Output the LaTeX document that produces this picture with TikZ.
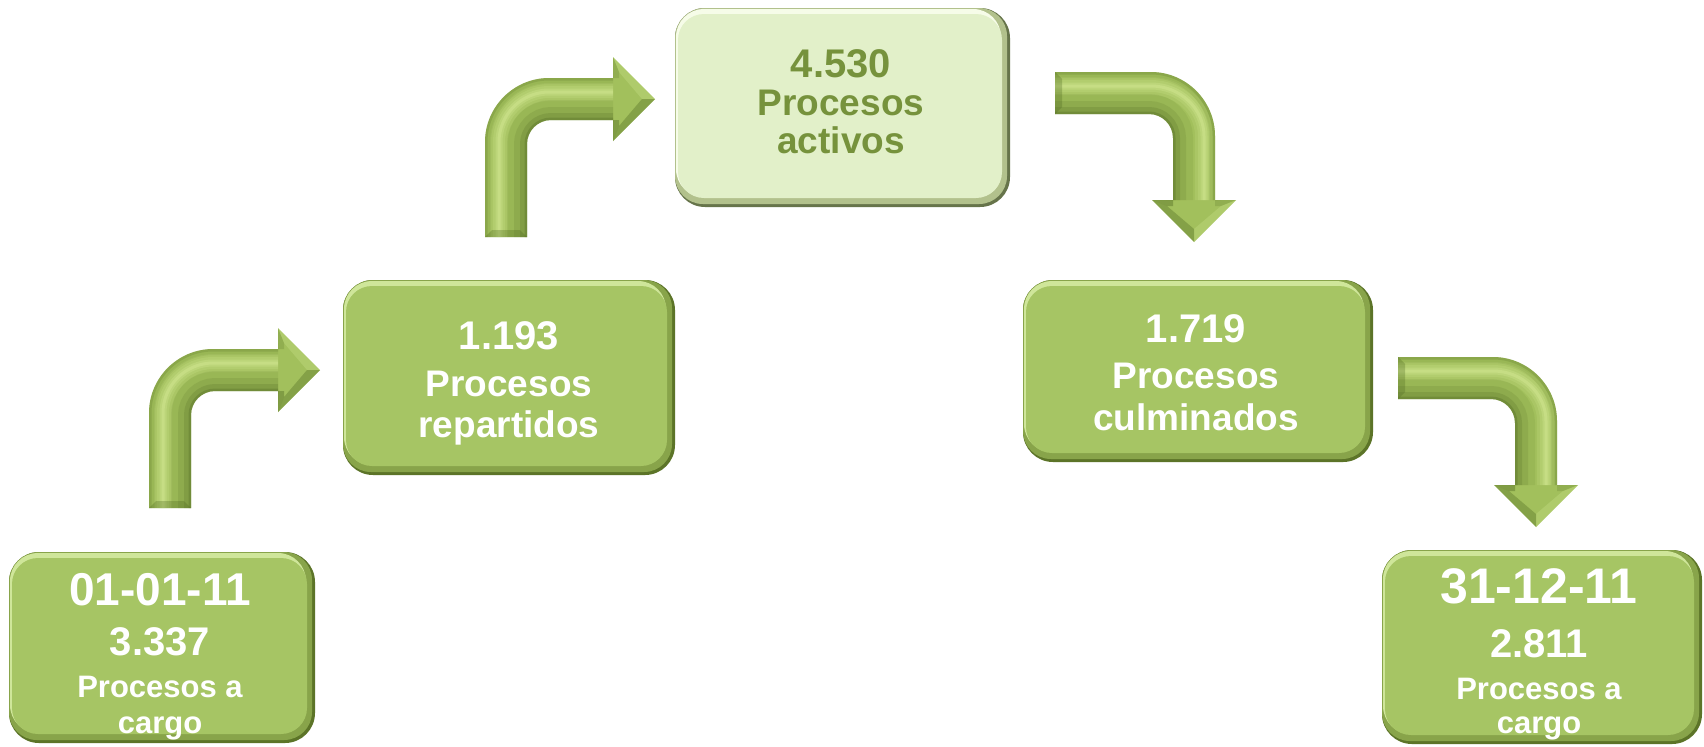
\documentclass[tikz,border=0pt]{standalone}
\usepackage{fontspec}
\setmainfont{Liberation Sans}
\usetikzlibrary{calc}

\definecolor{gMain}{HTML}{A6C564}
\definecolor{gDark}{HTML}{5C7428}
\definecolor{gMid}{HTML}{88A44A}
\definecolor{gLight}{HTML}{CFE69A}
\definecolor{lMain}{HTML}{E2F0C9}
\definecolor{lDark}{HTML}{66744A}
\definecolor{lMid}{HTML}{B2C18C}
\definecolor{lLight}{HTML}{F6FCE8}
\definecolor{txtDark}{HTML}{76923C}
\definecolor{aMain}{HTML}{A2C05C}
\definecolor{aDark}{HTML}{4E6820}
\definecolor{aLight}{HTML}{E4F8A8}

\def\awid{21}\def\ahh{42}\def\ahl{42}\def\aRo{64}\def\aRi{24}

\newcommand\bevel[3]{%
 \fill[#1,rounded corners=14pt] (path picture bounding box.north west) rectangle ([shift={(-3,-3)}]path picture bounding box.south east);
 \fill[#2,rounded corners=14pt] ([shift={(1,1)}]path picture bounding box.north west) rectangle ([shift={(-9,-10)}]path picture bounding box.south east);
 \fill[#3,rounded corners=13pt] ([shift={(3,6)}]path picture bounding box.north west) rectangle ([shift={(-8,-9)}]path picture bounding box.south east);
}

\tikzset{
 gbox/.style={rectangle, rounded corners=15pt, inner sep=0, fill=gDark, path picture={\bevel{gMid}{gLight}{gMain}}},
 lbox/.style={rectangle, rounded corners=15pt, inner sep=0, fill=lDark, path picture={\bevel{lMid}{lLight}{lMain}}},
 lbl/.style={text=white, inner sep=0, anchor=base, font=\bfseries\fontsize{#1}{#1}\selectfont},
 facetD/.style={fill=aDark, opacity=#1},
 facetL/.style={fill=aLight, opacity=#1},
}

% up-then-right bent arrow: name, cx, bottom y, cy, tip x
\newcommand\arrowUR[5]{%
 \coordinate (#1-0) at ({#2-\awid},#3);
 \coordinate (#1-1) at ({#2-\awid},{#4-\awid+\aRo});
 \coordinate (#1-c) at ({#2-\awid},{#4-\awid});
 \coordinate (#1-2) at ({#2-\awid+\aRo},{#4-\awid});
 \coordinate (#1-3) at ({#5-\ahl},{#4-\awid});
 \coordinate (#1-4) at ({#5-\ahl},{#4-\ahh});
 \coordinate (#1-5) at (#5,#4);
 \coordinate (#1-6) at ({#5-\ahl},{#4+\ahh});
 \coordinate (#1-7) at ({#5-\ahl},{#4+\awid});
 \coordinate (#1-8) at ({#2+\awid+\aRi},{#4+\awid});
 \coordinate (#1-d) at ({#2+\awid},{#4+\awid});
 \coordinate (#1-9) at ({#2+\awid},{#4+\awid+\aRi});
 \coordinate (#1-10) at ({#2+\awid},#3);
 \coordinate (#1-h0) at ({#2-\awid+14},#3);
 \coordinate (#1-h1) at ({#2-\awid+14},{#4-\awid+\aRo});
 \coordinate (#1-hc) at ({#2-\awid+14},{#4-\awid+14});
 \coordinate (#1-h2) at ({#2-\awid+\aRo},{#4-\awid+14});
 \coordinate (#1-h3) at ({#5-\ahl},{#4-\awid+14});
 \coordinate (#1-i3) at ({#5-\ahl+6},{#4-\awid});
 \coordinate (#1-i4) at ({#5-\ahl+6},{#4-\ahh+15});
 \coordinate (#1-i5) at ({#5-13},#4);
 \coordinate (#1-i6) at ({#5-\ahl+6},{#4+\ahh-15});
 \coordinate (#1-i7) at ({#5-\ahl+6},{#4+\awid});
 \path[fill=aMain, path picture={
   \foreach \lw/\op in {9pt/.12, 6pt/.15, 3.5pt/.2, 1.5pt/.25}{
     \draw[aLight, opacity=\op, line width=\lw] (#1-h0) -- (#1-h1) .. controls ($(#1-h1)!0.55!(#1-hc)$) and ($(#1-h2)!0.55!(#1-hc)$) .. (#1-h2) -- (#1-h3);}
   \foreach \lw/\op in {20pt/.1, 13pt/.14, 7pt/.2, 2.5pt/.3}{
     \draw[aDark, opacity=\op, line width=\lw] (#1-7) -- (#1-8) .. controls ($(#1-8)!0.55!(#1-d)$) and ($(#1-9)!0.55!(#1-d)$) .. (#1-9) -- (#1-10);}
   \foreach \lw/\op in {6pt/.1, 2.5pt/.2}{
     \draw[aDark, opacity=\op, line width=\lw] (#1-0) -- (#1-1) .. controls ($(#1-1)!0.55!(#1-c)$) and ($(#1-2)!0.55!(#1-c)$) .. (#1-2) -- (#1-3);}
 }] (#1-0) -- (#1-1) .. controls ($(#1-1)!0.55!(#1-c)$) and ($(#1-2)!0.55!(#1-c)$) .. (#1-2) -- (#1-3) -- (#1-4) -- (#1-5) -- (#1-6) -- (#1-7) -- (#1-8) .. controls ($(#1-8)!0.55!(#1-d)$) and ($(#1-9)!0.55!(#1-d)$) .. (#1-9) -- (#1-10) -- cycle;
 \fill[facetL=.2] (#1-4) -- (#1-5) -- (#1-i5) -- (#1-i4) -- cycle;
 \fill[facetD=.35] (#1-6) -- (#1-5) -- (#1-i5) -- (#1-i6) -- cycle;
 \fill[facetD=.2] (#1-3) -- (#1-4) -- (#1-i4) -- (#1-i3) -- cycle;
 \fill[facetD=.4] (#1-7) -- (#1-6) -- (#1-i6) -- (#1-i7) -- cycle;
 \fill[facetD=.3] (#1-0) -- (#1-10) -- ({#2+\awid-7},{#3-7}) -- ({#2-\awid+7},{#3-7}) -- cycle;
}

% right-then-down bent arrow: name, left x, cy, cx, tip y
\newcommand\arrowRD[5]{%
 \coordinate (#1-0) at (#2,{#3+\awid});
 \coordinate (#1-1) at (#2,{#3-\awid});
 \coordinate (#1-2) at ({#4+\awid-\aRo},{#3-\awid});
 \coordinate (#1-c) at ({#4+\awid},{#3-\awid});
 \coordinate (#1-3) at ({#4+\awid},{#3-\awid+\aRo});
 \coordinate (#1-4) at ({#4+\awid},{#5-\ahl});
 \coordinate (#1-5) at ({#4+\ahh},{#5-\ahl});
 \coordinate (#1-6) at (#4,#5);
 \coordinate (#1-7) at ({#4-\ahh},{#5-\ahl});
 \coordinate (#1-8) at ({#4-\awid},{#5-\ahl});
 \coordinate (#1-9) at ({#4-\awid},{#3+\awid+\aRi});
 \coordinate (#1-d) at ({#4-\awid},{#3+\awid});
 \coordinate (#1-10) at ({#4-\awid-\aRi},{#3+\awid});
 \coordinate (#1-h0) at (#2,{#3-\awid+14});
 \coordinate (#1-h2) at ({#4+\awid-\aRo},{#3-\awid+14});
 \coordinate (#1-hc) at ({#4+\awid-11},{#3-\awid+14});
 \coordinate (#1-h3) at ({#4+\awid-11},{#3-\awid+\aRo});
 \coordinate (#1-h4) at ({#4+\awid-11},{#5-\ahl});
 \coordinate (#1-i4) at ({#4+\awid},{#5-\ahl+6});
 \coordinate (#1-i5) at ({#4+\ahh-15},{#5-\ahl+6});
 \coordinate (#1-i6) at (#4,{#5-13});
 \coordinate (#1-i7) at ({#4-\ahh+15},{#5-\ahl+6});
 \coordinate (#1-i8) at ({#4-\awid},{#5-\ahl+6});
 \path[fill=aMain, path picture={
   \foreach \lw/\op in {9pt/.12, 6pt/.15, 3.5pt/.2, 1.5pt/.25}{
     \draw[aLight, opacity=\op, line width=\lw] (#1-h0) -- (#1-h2) .. controls ($(#1-h2)!0.55!(#1-hc)$) and ($(#1-h3)!0.55!(#1-hc)$) .. (#1-h3) -- (#1-h4);}
   \foreach \lw/\op in {20pt/.1, 13pt/.14, 7pt/.2, 2.5pt/.3}{
     \draw[aDark, opacity=\op, line width=\lw] (#1-8) -- (#1-9) .. controls ($(#1-9)!0.55!(#1-d)$) and ($(#1-10)!0.55!(#1-d)$) .. (#1-10) -- (#1-0);}
   \foreach \lw/\op in {6pt/.1, 2.5pt/.2}{
     \draw[aDark, opacity=\op, line width=\lw] (#1-1) -- (#1-2) .. controls ($(#1-2)!0.55!(#1-c)$) and ($(#1-3)!0.55!(#1-c)$) .. (#1-3) -- (#1-4);}
 }] (#1-0) -- (#1-1) -- (#1-2) .. controls ($(#1-2)!0.55!(#1-c)$) and ($(#1-3)!0.55!(#1-c)$) .. (#1-3) -- (#1-4) -- (#1-5) -- (#1-6) -- (#1-7) -- (#1-8) -- (#1-9) .. controls ($(#1-9)!0.55!(#1-d)$) and ($(#1-10)!0.55!(#1-d)$) .. (#1-10) -- cycle;
 \fill[facetL=.2] (#1-5) -- (#1-6) -- (#1-i6) -- (#1-i5) -- cycle;
 \fill[facetD=.35] (#1-7) -- (#1-6) -- (#1-i6) -- (#1-i7) -- cycle;
 \fill[facetD=.2] (#1-4) -- (#1-5) -- (#1-i5) -- (#1-i4) -- cycle;
 \fill[facetD=.4] (#1-8) -- (#1-7) -- (#1-i7) -- (#1-i8) -- cycle;
 \fill[facetD=.3] (#1-0) -- (#1-1) -- ({#2+7},{#3-\awid+7}) -- ({#2+7},{#3+\awid-7}) -- cycle;
}

\begin{document}
\begin{tikzpicture}[x=0.5pt, y=-0.5pt]
\useasboundingbox (0,0) rectangle (1704,746);
\fill[white] (0,0) rectangle (1704,746);

% boxes
\node[gbox, minimum width=153pt, minimum height=95.5pt] (b1) at (162,647.5) {};
\node[gbox, minimum width=166pt, minimum height=97.5pt] (b2) at (509,377.5) {};
\node[lbox, minimum width=167.5pt, minimum height=99.5pt] (b3) at (842.5,107.5) {};
\node[gbox, minimum width=175pt, minimum height=91pt] (b4) at (1198,371) {};
\node[gbox, minimum width=160pt, minimum height=97pt] (b5) at (1542,647) {};

% arrows
\arrowUR{a1}{170}{508}{370}{320}
\arrowUR{a2}{506}{237}{99}{655}
\arrowRD{a3}{1055}{93}{1194}{242}
\arrowRD{a4}{1398}{378}{1536}{527}

% texts
\node[lbl=23pt] (t1a) at (160,605) {01-01-11};
\node[lbl=20pt] (t1b) at (160,655) {3.337};
\node[lbl=15.5pt] (t1c) at (160,697) {Procesos a};
\node[lbl=15.5pt] (t1d) at (160,733) {cargo};

\node[lbl=20pt] (t2a) at (509,349) {1.193};
\node[lbl=18.5pt] (t2b) at (509,396) {Procesos};
\node[lbl=18.5pt] (t2c) at (509,437) {repartidos};

\node[lbl=20pt, text=txtDark] (t3a) at (841,77) {4.530};
\node[lbl=18.5pt, text=txtDark] (t3b) at (841,115) {Procesos};
\node[lbl=18.5pt, text=txtDark] (t3c) at (841,153) {activos};

\node[lbl=20pt] (t4a) at (1196,342) {1.719};
\node[lbl=18.5pt] (t4b) at (1196,388) {Procesos};
\node[lbl=18.5pt] (t4c) at (1196,430) {culminados};

\node[lbl=25pt] (t5a) at (1539,603) {31-12-11};
\node[lbl=20pt] (t5b) at (1539,657) {2.811};
\node[lbl=15.5pt] (t5c) at (1539,699) {Procesos a};
\node[lbl=15.5pt] (t5d) at (1539,733) {cargo};
\end{tikzpicture}
\end{document}
